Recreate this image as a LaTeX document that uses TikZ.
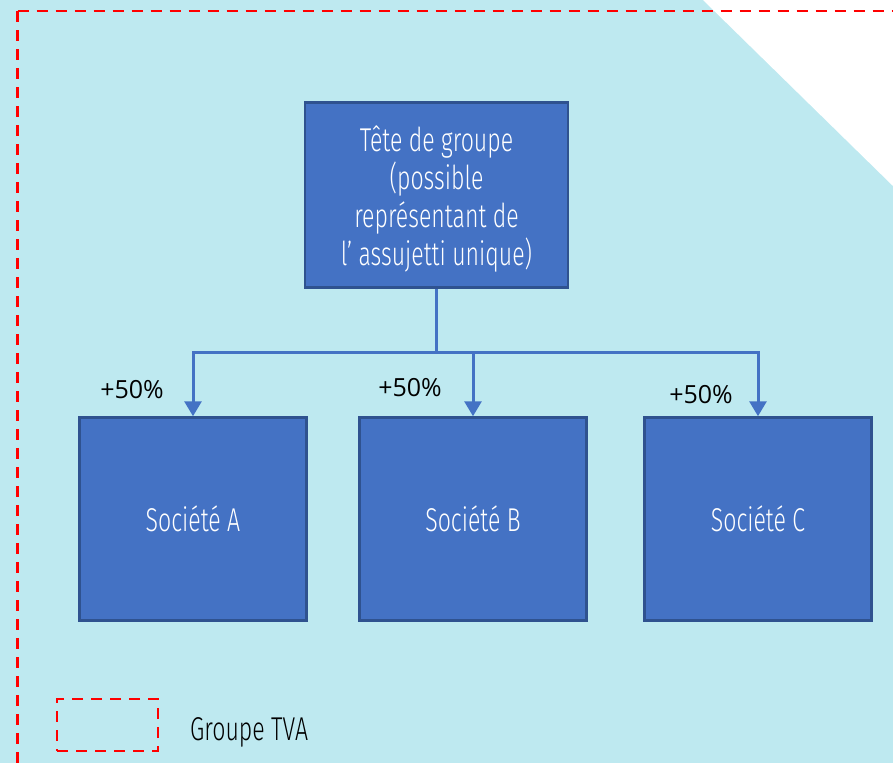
\documentclass[tikz,border=0pt]{standalone}
\usepackage{fontspec}
\setmainfont{Fira Sans}[UprightFont={* Light}, FakeStretch=0.70]
\newfontfamily\pctfont{Open Sans}
\usetikzlibrary{arrows.meta}
\definecolor{bgcyan}{HTML}{BEE9F0}
\definecolor{boxblue}{HTML}{4472C4}
\definecolor{boxedge}{HTML}{2F528F}
\definecolor{tvared}{HTML}{FF0000}
\tikzset{
  entity/.style={draw=boxedge, line width=2.5pt, fill=boxblue, text=white, inner sep=0pt, align=center},
  entitytext/.style={text=white, inner sep=0pt, align=center, font=\fontsize{33}{38}\selectfont},
  link/.style={draw=boxblue, line width=3pt},
  linkarrow/.style={link, -{Triangle[width=17pt,length=15pt]}},
  pct/.style={font=\pctfont\fontsize{25}{30}\selectfont, inner sep=0pt},
  tvabox/.style={draw=tvared, line width=2.8pt, dash pattern=on 11pt off 8pt},
}
\begin{document}
\begin{tikzpicture}[x=1pt,y=-1pt]
\useasboundingbox (0,0) rectangle (893,763);
\fill[bgcyan] (0,0) rectangle (893,763);
\fill[white] (703,0) -- (893,0) -- (893,186) -- cycle;
\begin{scope}
\clip (0,0) rectangle (893,763);
\draw[tvabox] (17.5,11) -- (910,11);
\draw[tvabox] (17.5,11) -- (17.5,780);
\end{scope}
\node[entity, minimum width=263pt, minimum height=185pt] (top) at (436.5,195) {};
\node[entitytext] (toptext) at (436.5,199)
  {Tête de groupe\\(possible\\représentant de\\l’ assujetti unique)};
\node[entity, minimum width=227pt, minimum height=203pt, font=\fontsize{33}{38}\selectfont] (A) at (193,519) {Société A};
\node[entity, minimum width=227pt, minimum height=203pt, font=\fontsize{33}{38}\selectfont] (B) at (473,519) {Société B};
\node[entity, minimum width=227pt, minimum height=203pt, font=\fontsize{33}{38}\selectfont] (C) at (758,519) {Société C};
\coordinate (j) at (436.5,352);
\draw[link] (top.south) -- (j);
\draw[linkarrow] (j) -| (A.north);
\draw[linkarrow] (j) -| (B.north);
\draw[linkarrow] (j) -| (C.north);
\node[pct] (pA) at (132,390) {+50\%};
\node[pct] (pB) at (410,388) {+50\%};
\node[pct] (pC) at (701,395) {+50\%};
\node[tvabox, minimum width=101pt, minimum height=52pt, inner sep=0pt] (leg) at (107.5,725) {};
\node[anchor=west, inner sep=0pt, font=\fontsize{33}{38}\selectfont] (legt) at (190,732) {Groupe TVA};
\end{tikzpicture}
\end{document}
